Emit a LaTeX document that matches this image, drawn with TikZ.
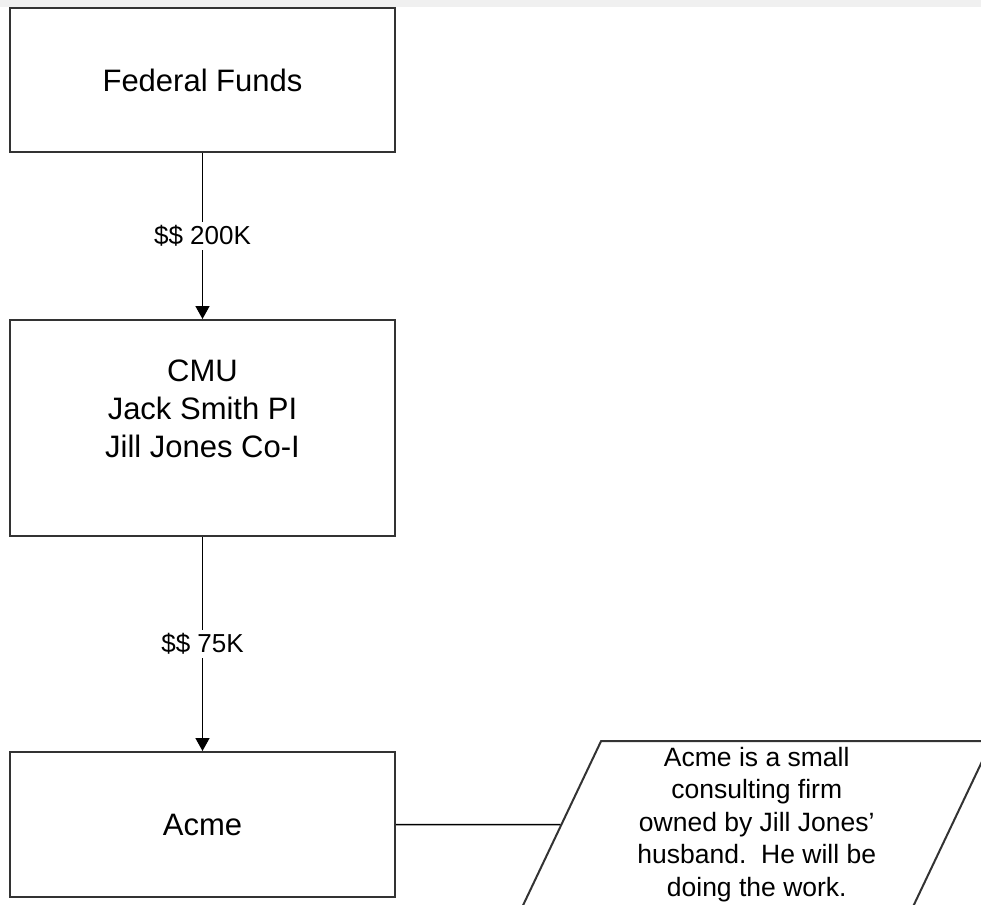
\documentclass[tikz,border=0pt]{standalone}
\usepackage{fontspec}
\setmainfont{Liberation Sans}
\usetikzlibrary{arrows.meta,shapes.geometric}

\definecolor{edge}{HTML}{333333}
\definecolor{strip}{HTML}{F0F0F0}

\tikzset{
	box/.style = {draw = edge, line width = 2pt, minimum width = 385pt, align = center, font = \fontsize{31}{38}\selectfont},
	flow/.style = {draw = black, line width = 1.5pt, -{Triangle[length = 13pt, width = 14pt]}},
	money/.style = {fill = white, inner sep = 3pt, font = \fontsize{26}{32}\selectfont},
	memo/.style = {draw = edge, line width = 2pt, trapezium, trapezium left angle = 63.43, trapezium right angle = 116.57, trapezium stretches body, minimum width = 470pt, minimum height = 167pt, inner sep = 2pt, align = center, font = \fontsize{26.5}{32.5}\selectfont}
}

\begin{document}
\begin{tikzpicture}[x = 1pt, y = -1pt]
\useasboundingbox (0,0) rectangle (981,904);
\clip (0,0) rectangle (981,904);
\fill[strip] (0,0) rectangle (981,7.5);

\node[box, minimum height = 144pt] (fed) at (202.5,80) {Federal Funds};
\node[box, minimum height = 216pt] (cmu) at (202.5,428) {CMU\\Jack Smith PI\\Jill Jones Co-I\\\mbox{}};
\node[box, minimum height = 145pt] (acme) at (202.5,824.5) {Acme};
\node[memo] (remark) at (756.75,824.5) {Acme is a small\\consulting firm\\owned by Jill Jones’\\husband.\ \ He will be\\doing the work.};

\draw[flow] (fed) -- node[money] {\$\$ 200K} (cmu);
\draw[flow] (cmu) -- node[money] {\$\$ 75K} (acme);
\draw[line width = 1.5pt] (acme) -- (remark);
\end{tikzpicture}
\end{document}
